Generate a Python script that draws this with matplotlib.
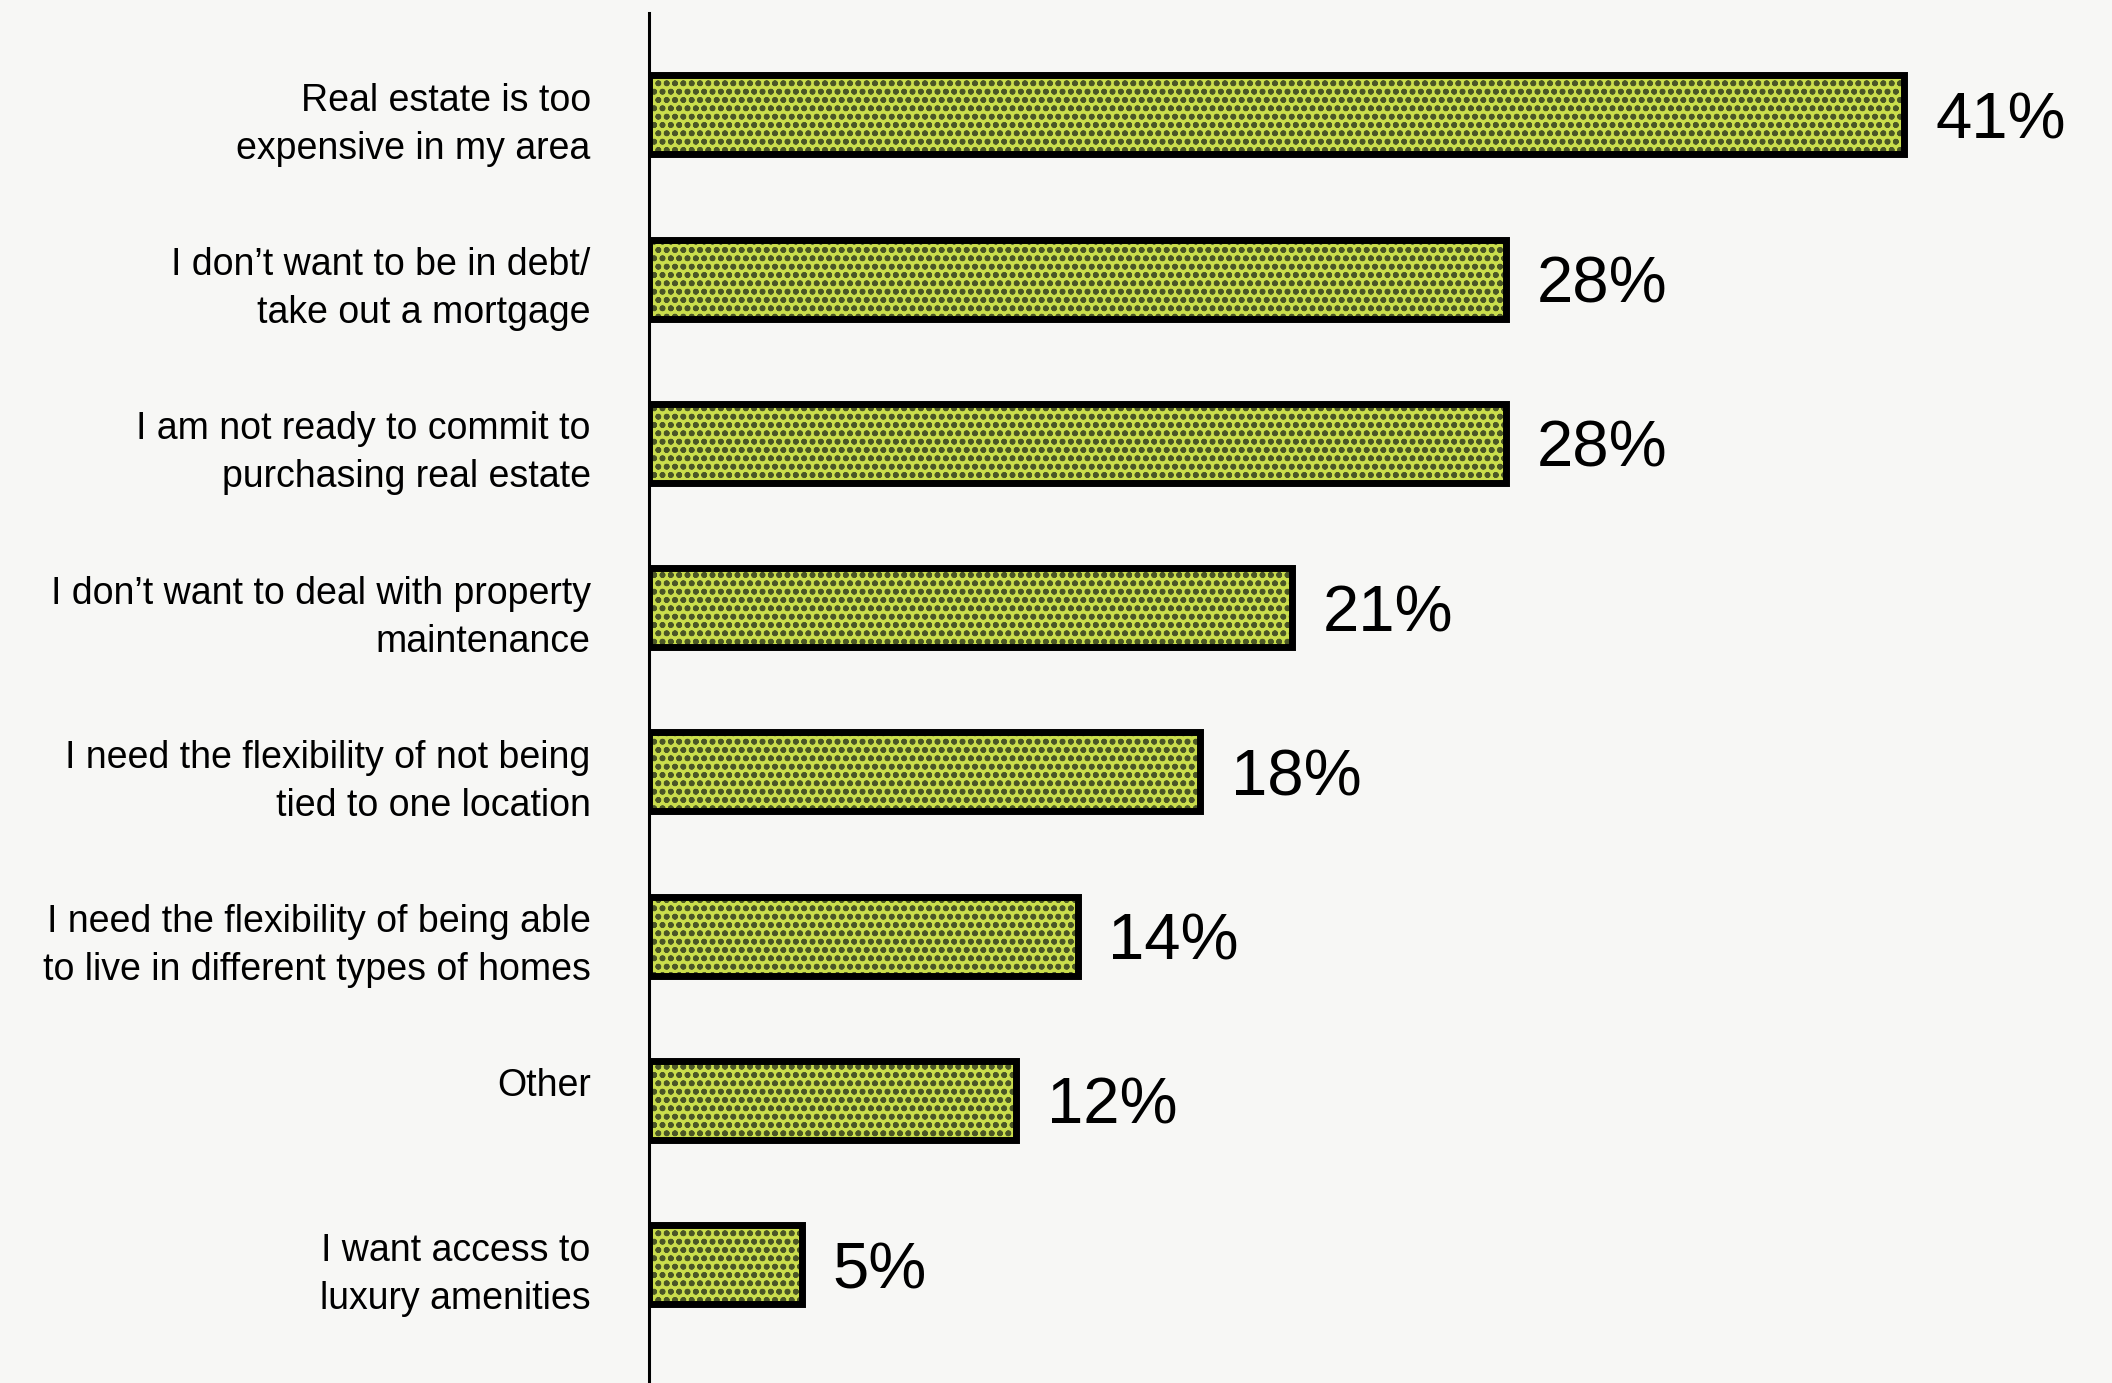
import matplotlib
matplotlib.use('Agg')
import matplotlib.pyplot as plt

labels = [
    'Real estate is too\nexpensive in my area',
    'I don\u2019t want to be in debt/\ntake out a mortgage',
    'I am not ready to commit to\npurchasing real estate',
    'I don\u2019t want to deal with property\nmaintenance',
    'I need the flexibility of not being\ntied to one location',
    'I need the flexibility of being able\nto live in different types of homes',
    'Other\n ',
    'I want access to\nluxury amenities',
]
values = [41, 28, 28, 21, 18, 14, 12, 5]

bg = '#f7f7f5'
fill = '#cadd4c'
dots = '#4b5626'

plt.rcParams['font.family'] = ['Liberation Sans', 'DejaVu Sans']
plt.rcParams['hatch.linewidth'] = 1.75
plt.rcParams['hatch.color'] = dots

fig = plt.figure(figsize=(21.12, 13.83), dpi=100, facecolor=bg)
ax = fig.add_axes([649 / 2112, 0, 1456 / 2112, 1 - 13 / 1383])
ax.set_facecolor(bg)

ypos = list(range(len(values)))
# textured fill
ax.barh(ypos, values, height=0.48, color=fill, edgecolor=dots, hatch='oo', linewidth=0)
# outline on top
ax.barh(ypos, values, height=0.48, color='none', edgecolor='black', linewidth=5)

for y, v in zip(ypos, values):
    ax.text(v + 1.0, y, f'{v}%', va='center_baseline', ha='left', fontsize=47, color='black')

ax.set_xlim(0, 47.55)
ax.set_ylim(7.72, -0.62)
ax.set_yticks(ypos, labels, fontsize=27, linespacing=1.43)
ax.tick_params(axis='y', length=0, pad=42)
ax.set_xticks([])
for s in ['top', 'right', 'bottom']:
    ax.spines[s].set_visible(False)
ax.spines['left'].set_linewidth(2.2)
ax.spines['left'].set_color('black')

fig.savefig('out.png', dpi=100, facecolor=bg)
